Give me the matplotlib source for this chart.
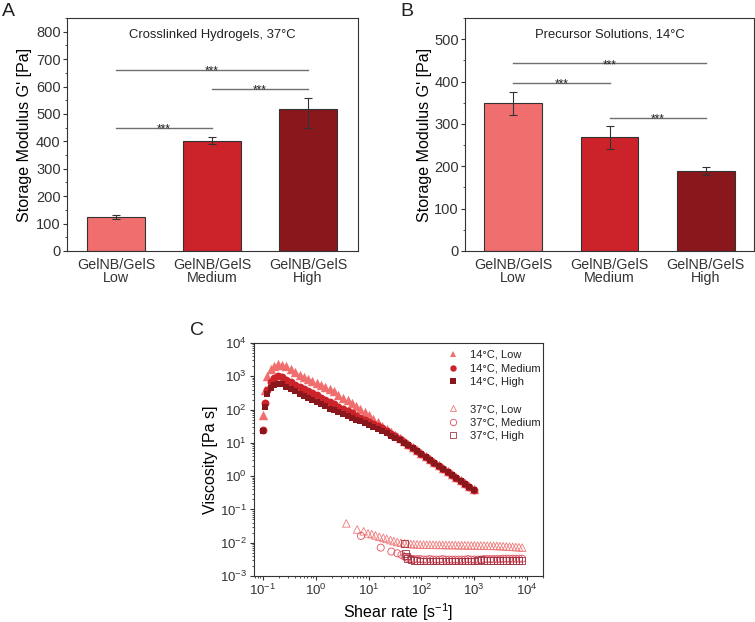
import numpy as np
import matplotlib
matplotlib.use("Agg")
import matplotlib.pyplot as plt
from matplotlib.lines import Line2D
from matplotlib.ticker import MultipleLocator, LogLocator, NullFormatter

# ---- bar data (panels A and B) ----
groups = ["GelNB/GelS\nLow", "GelNB/GelS\nMedium", "GelNB/GelS\nHigh"]
bar_colors = ["#F06E6E", "#CC2229", "#8A171C"]

g_hydrogel = [124, 403, 519]
g_hydrogel_err_low = [9, 13, 72]
g_hydrogel_err_up = [9, 13, 40]
sig_hydrogel = [(0, 1, 450), (1, 2, 591), (0, 2, 661)]

g_precursor = [349, 268, 189]
g_precursor_err = [27, 28, 9]
sig_precursor = [(0, 1, 397), (1, 2, 315), (0, 2, 443)]

# ---- flow curves (panel C) ----
rate_14 = [0.10, 0.11, 0.12, 0.14, 0.16, 0.19, 0.23, 0.28, 0.34, 0.41,
           0.50, 0.60, 0.72, 0.87, 1.05, 1.27, 1.53, 1.85, 2.2, 2.7,
           3.3, 4.0, 4.8, 5.8, 7.0, 8.5, 10.3, 12.4, 15, 18,
           22, 27, 32, 39, 47, 57, 69, 83, 100, 121,
           146, 177, 214, 259, 313, 378, 457, 553, 669, 809, 978]
visc_14_low = [70, 400, 1000, 1600, 2050, 2300, 2250, 2000, 1700, 1350,
               1120, 975, 850, 736, 638, 552, 479, 414, 350, 283,
               230, 189, 157, 129, 106, 87, 68, 53, 41, 32.5,
               25.5, 20.5, 17.2, 13.9, 11.4, 9.3, 7.55, 6.16, 5.0, 4.07,
               3.31, 2.68, 2.17, 1.76, 1.43, 1.16, 0.94, 0.765, 0.62, 0.50, 0.41]
visc_14_med = [24, 158, 400, 650, 880, 1000, 930, 780, 660, 560,
               480, 415, 358, 308, 265, 228, 196, 169, 146, 123,
               105, 90, 77, 66, 57, 49, 42, 36.3, 31.3, 27.1,
               22.8, 18.5, 15.5, 12.6, 10.4, 8.55, 6.93, 5.68, 4.63, 3.77,
               3.07, 2.49, 2.03, 1.65, 1.34, 1.09, 0.89, 0.72, 0.59, 0.48, 0.39]
visc_14_high = [22, 118, 300, 430, 540, 600, 570, 480, 410, 350,
                290, 252, 220, 190, 165, 143, 124, 107, 95.5, 83.4,
                73, 64, 57, 50, 44.5, 39, 34, 30, 26.2, 23,
                19.7, 16.4, 14.1, 11.8, 9.95, 8.35, 6.77, 5.55, 4.52, 3.68,
                3.0, 2.43, 1.98, 1.61, 1.31, 1.07, 0.87, 0.70, 0.58, 0.47, 0.38]

rate_37_low_start = [3.8, 6.1, 8.1, 9.8, 11.5, 13.5, 16, 19, 22, 26, 30, 35, 41, 48]
visc_37_low_start = [0.038, 0.025, 0.022, 0.019, 0.018, 0.0165, 0.015, 0.014,
                     0.013, 0.012, 0.0112, 0.0105, 0.0100, 0.0096]
rate_37_med_start = [7.2, 17, 27, 35, 42, 48]
visc_37_med_start = [0.016, 0.0071, 0.0054, 0.0048, 0.0043, 0.0038]
rate_37_high_start = [48, 50, 52]
visc_37_high_start = [0.0093, 0.0047, 0.0040]

rate_37 = [55, 63, 72, 83, 95, 110, 126, 145, 166, 191,
           220, 252, 290, 333, 382, 440, 505, 580, 666, 765,
           880, 1010, 1160, 1330, 1530, 1760, 2020, 2320, 2670, 3060,
           3520, 4040, 4640, 5330, 6120, 7030, 8070]
visc_37_low = [0.0093, 0.0091, 0.0090, 0.0089, 0.0088, 0.0088, 0.0087, 0.0087, 0.0087, 0.0086,
               0.0086, 0.0086, 0.0085, 0.0085, 0.0085, 0.0085, 0.0084, 0.0084, 0.0084, 0.0083,
               0.0083, 0.0083, 0.0082, 0.0082, 0.0082, 0.0081, 0.0081, 0.0080, 0.0080, 0.0079,
               0.0078, 0.0077, 0.0076, 0.0075, 0.0074, 0.0073, 0.0071]
visc_37_med = [0.0035, 0.0033, 0.0032, 0.0032, 0.0032, 0.0031, 0.0031, 0.0032, 0.0031, 0.0031,
               0.0031, 0.0032, 0.0031, 0.0031, 0.0031, 0.0031, 0.0031, 0.0031, 0.0031, 0.0032,
               0.0031, 0.0031, 0.0031, 0.0031, 0.0032, 0.0032, 0.0032, 0.0032, 0.0032, 0.0032,
               0.0033, 0.0033, 0.0033, 0.0033, 0.0033, 0.0033, 0.0033]
visc_37_high = [0.0034, 0.0031, 0.0029, 0.0029, 0.0028, 0.0028, 0.0028, 0.0028, 0.0028, 0.0028,
                0.0028, 0.0028, 0.0028, 0.0028, 0.0028, 0.0028, 0.0028, 0.0028, 0.0028, 0.0028,
                0.0028, 0.0028, 0.0029, 0.0031, 0.0029, 0.0029, 0.0029, 0.0029, 0.0029, 0.0029,
                0.0029, 0.0029, 0.0029, 0.0029, 0.0029, 0.0029, 0.0029]

c14 = ["#F06E6E", "#CC2229", "#8A171C"]
c37 = ["#F07A7A", "#E0505E", "#A03444"]

plt.rcParams["font.family"] = ["Liberation Sans", "DejaVu Sans"]
plt.rcParams["mathtext.fontset"] = "custom"
plt.rcParams["mathtext.rm"] = "Liberation Sans"
plt.rcParams["mathtext.default"] = "regular"
plt.rcParams["axes.edgecolor"] = "#333333"
plt.rcParams["axes.linewidth"] = 0.8
plt.rcParams["xtick.color"] = "#333333"
plt.rcParams["ytick.color"] = "#333333"
plt.rcParams["text.color"] = "#222222"

fig = plt.figure(figsize=(7.55, 6.22), dpi=100)

ax_a = fig.add_axes([0.0887, 0.5965, 0.3854, 0.3746])
ax_b = fig.add_axes([0.6159, 0.5965, 0.3828, 0.3746])
ax_c = fig.add_axes([0.3364, 0.0740, 0.3828, 0.3746])


def bar_panel(ax, values, errs, ymax, sig, title, xlim):
    x = np.arange(len(groups))
    ax.bar(x, values, width=0.6, color=bar_colors, edgecolor="#333333",
           linewidth=0.8, zorder=2)
    ax.errorbar(x, values, yerr=errs, fmt="none", ecolor="#333333",
                elinewidth=0.8, capsize=3, capthick=0.8, zorder=3)
    for i, j, h in sig:
        ax.plot([i, j], [h, h], color="#707070", lw=1, zorder=2)
        ax.annotate("***", ((i + j) / 2, h), xytext=(0, -3.4),
                    textcoords="offset points", ha="center",
                    va="baseline", fontsize=8.5)
    ax.text(0.5, 0.927, title, transform=ax.transAxes, ha="center",
            va="center", fontsize=9.4)
    ax.set_xlim(*xlim)
    ax.set_ylim(0, ymax)
    ax.set_xticks(x)
    ax.set_xticklabels(groups, fontsize=10.3, linespacing=0.95)
    ax.yaxis.set_major_locator(MultipleLocator(100))
    ax.yaxis.set_minor_locator(MultipleLocator(50))
    ax.tick_params(axis="y", which="major", direction="out", length=3,
                   width=0.8, pad=1.5, labelsize=10.5)
    ax.tick_params(axis="y", which="minor", direction="out", length=1.5,
                   width=0.6)
    ax.tick_params(axis="x", length=0, pad=5)
    ax.set_ylabel("Storage Modulus G' [Pa]", fontsize=11.5)


bar_panel(ax_a, g_hydrogel, [g_hydrogel_err_low, g_hydrogel_err_up], 850,
          sig_hydrogel, "Crosslinked Hydrogels, 37°C", (-0.51, 2.52))
ax_a.yaxis.set_label_coords(-0.12, 0.5)

bar_panel(ax_b, g_precursor, g_precursor_err, 550,
          sig_precursor, "Precursor Solutions, 14°C", (-0.5, 2.5))
ax_b.yaxis.set_label_coords(-0.114, 0.5)

# ---- panel C ----
ax_c.set_xscale("log")
ax_c.set_yscale("log")

ax_c.scatter(rate_37_low_start + rate_37, visc_37_low_start + visc_37_low,
             marker="^", s=30, facecolors="none", edgecolors=c37[0],
             linewidths=0.6, zorder=2)
ax_c.scatter(rate_37_med_start + rate_37, visc_37_med_start + visc_37_med,
             marker="o", s=26, facecolors="none", edgecolors=c37[1],
             linewidths=0.6, zorder=2)
ax_c.scatter(rate_37_high_start + rate_37, visc_37_high_start + visc_37_high,
             marker="s", s=22, facecolors="none", edgecolors=c37[2],
             linewidths=0.6, zorder=2)

ax_c.scatter(rate_14, visc_14_low, marker="^", s=46, color=c14[0],
             linewidths=0, zorder=3)
ax_c.scatter(rate_14, visc_14_med, marker="o", s=32, color=c14[1],
             linewidths=0, zorder=3)
ax_c.scatter(rate_14, visc_14_high, marker="s", s=24, color=c14[2],
             linewidths=0, zorder=3)

ax_c.set_xlim(0.068, 2.0e4)
ax_c.set_ylim(1e-3, 1e4)
ax_c.xaxis.set_major_locator(LogLocator(base=10, numticks=10))
ax_c.yaxis.set_major_locator(LogLocator(base=10, numticks=10))
ax_c.xaxis.set_minor_locator(LogLocator(base=10, subs=np.arange(2, 10), numticks=20))
ax_c.yaxis.set_minor_locator(LogLocator(base=10, subs=np.arange(2, 10), numticks=20))
ax_c.xaxis.set_minor_formatter(NullFormatter())
ax_c.yaxis.set_minor_formatter(NullFormatter())
ax_c.tick_params(which="major", direction="out", length=3, width=0.8,
                 pad=2, labelsize=9.5)
ax_c.tick_params(which="minor", direction="out", length=1.5, width=0.6)
ax_c.set_xlabel("Shear rate [s$^{-1}$]", fontsize=11.5)
ax_c.set_ylabel("Viscosity [Pa s]", fontsize=11.5)
ax_c.yaxis.set_label_coords(-0.125, 0.5)
ax_c.xaxis.set_label_coords(0.5, -0.11)

handles = [
    Line2D([], [], ls="none", marker="^", ms=5, color=c14[0], mew=0),
    Line2D([], [], ls="none", marker="o", ms=4.6, color=c14[1], mew=0),
    Line2D([], [], ls="none", marker="s", ms=4.2, color=c14[2], mew=0),
    Line2D([], [], ls="none", marker=None),
    Line2D([], [], ls="none", marker="^", ms=5, mfc="none", mec=c37[0], mew=0.6),
    Line2D([], [], ls="none", marker="o", ms=4.6, mfc="none", mec=c37[1], mew=0.6),
    Line2D([], [], ls="none", marker="s", ms=4.2, mfc="none", mec=c37[2], mew=0.6),
]
labels = ["14°C, Low", "14°C, Medium", "14°C, High", " ",
          "37°C, Low", "37°C, Medium", "37°C, High"]
ax_c.legend(handles, labels, loc="upper left", bbox_to_anchor=(0.67, 0.97),
            frameon=False, fontsize=8, handlelength=1.0, handletextpad=1.0,
            labelspacing=0.32, borderpad=0, borderaxespad=0)

# panel letters
fig.text(0.003, 0.995, "A", fontsize=14, ha="left", va="top")
fig.text(0.530, 0.995, "B", fontsize=14, ha="left", va="top")
fig.text(0.252, 0.483, "C", fontsize=14, ha="left", va="top")

fig.savefig("out.png", dpi=100)
